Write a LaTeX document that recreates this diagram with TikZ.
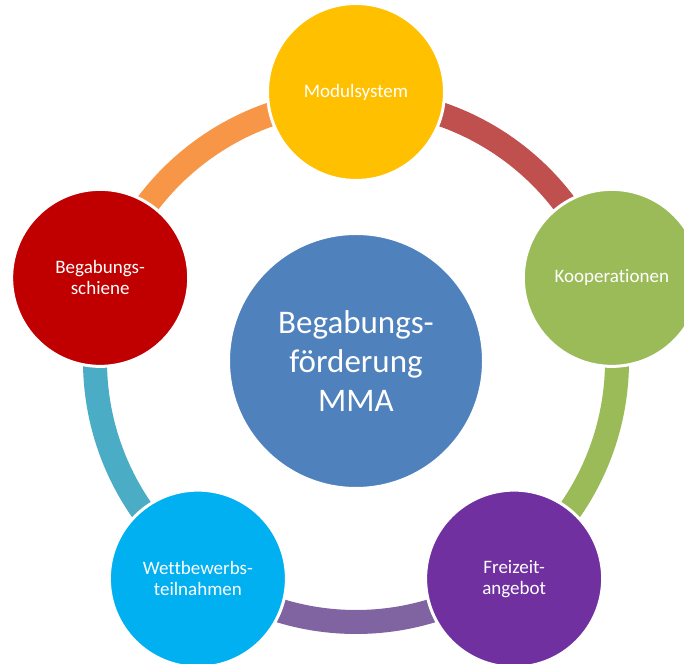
\documentclass[tikz,border=0pt]{standalone}
\usepackage{fontspec}
\setmainfont{Carlito}[Ligatures=NoCommon]

\definecolor{hubblue}{HTML}{4F81BD}
\definecolor{modulgold}{HTML}{FFC000}
\definecolor{koopgreen}{HTML}{9BBB59}
\definecolor{freipurple}{HTML}{7030A0}
\definecolor{wettblue}{HTML}{00B0F0}
\definecolor{schienered}{HTML}{C00000}
\definecolor{ringred}{HTML}{C0504D}
\definecolor{ringgreen}{HTML}{9BBB59}
\definecolor{ringpurple}{HTML}{8064A2}
\definecolor{ringteal}{HTML}{4BACC6}
\definecolor{ringorange}{HTML}{F79646}

\begin{document}
\begin{tikzpicture}
  [x=1pt,y=1pt,
   every node/.style={circle,draw=white,line width=3pt,inner sep=0pt,text=white,align=center},
   outer/.style={minimum size=177pt,font=\fontsize{19}{21}\selectfont},
   hub/.style={minimum size=255pt,fill=hubblue,font=\fontsize{33}{39}\selectfont},
   band/.style={line width=24pt}]

  \useasboundingbox (0,0) rectangle (684,663);
  \clip (0,0) rectangle (684,663);
  \coordinate (O) at (356,302);

  % ring segments
  \foreach \from/\to/\col in {90/18/ringred,18/-54/ringgreen,-54/-126/ringpurple,-126/-198/ringteal,162/90/ringorange}
    \draw [band,\col] (O) ++(\from:261) arc [start angle=\from, end angle=\to, radius=261];

  \node [hub] (H) at (O) {Begabungs-\\förderung\\MMA};

  \node [outer,fill=modulgold] (M) at ([shift={(90:269)}]O) {Modulsystem};
  \node [outer,fill=koopgreen] (K) at ([shift={(18:269)}]O) {Kooperationen};
  \node [outer,fill=freipurple] (F) at ([shift={(-54:269)}]O) {Freizeit-\\angebot};
  \node [outer,fill=wettblue] (W) at ([shift={(-126:269)}]O) {Wettbewerbs-\\teilnahmen};
  \node [outer,fill=schienered] (S) at ([shift={(162:269)}]O) {Begabungs-\\schiene};
\end{tikzpicture}
\end{document}
